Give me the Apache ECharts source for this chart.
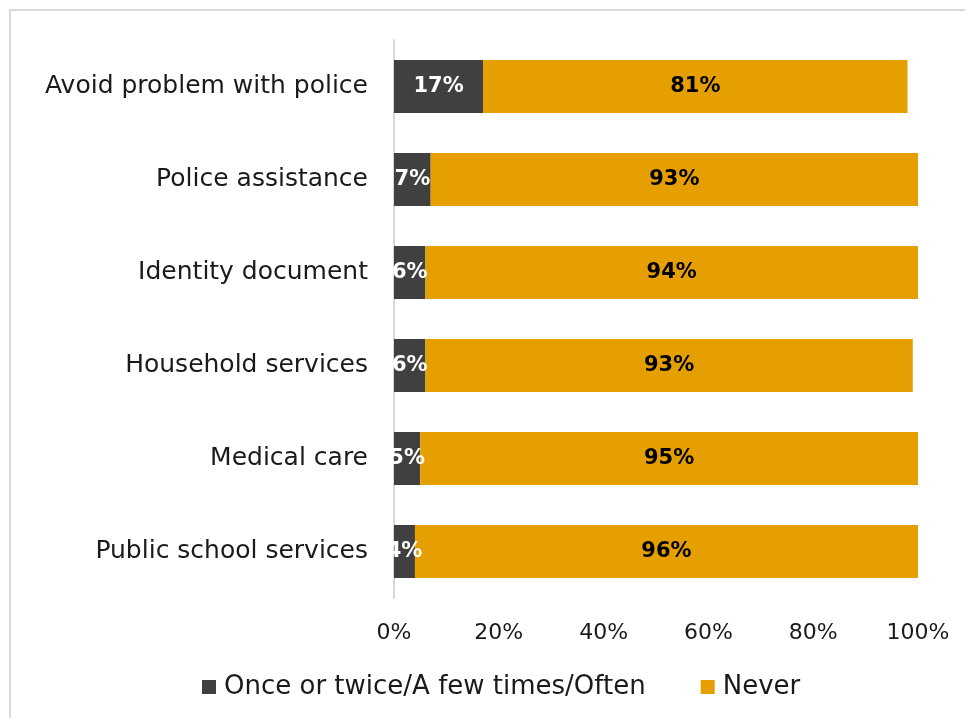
<!DOCTYPE html>
<html>
<head>
<meta charset="utf-8">
<script src="https://cdn.jsdelivr.net/npm/echarts@6/dist/echarts.min.js"></script>
<style>
  html, body { margin: 0; padding: 0; background: #ffffff; }
  #chart { width: 965px; height: 718px; }
</style>
</head>
<body>
<div id="chart"></div>
<script>
// Categories, top to bottom
const categories = [
  'Avoid problem with police',
  'Police assistance',
  'Identity document',
  'Household services',
  'Medical care',
  'Public school services'
];
// Share answering "Once or twice/A few times/Often" (%)
const frequentValues = [17, 7, 6, 6, 5, 4];
// Share answering "Never" (%)
const neverValues = [81, 93, 94, 93, 95, 96];
// Series names shown in the legend
const seriesNames = ['Once or twice/A few times/Often', 'Never'];

const FONT = '"DejaVu Sans", "Liberation Sans", sans-serif';
const DARK = '#404040';
const ORANGE = '#E69F00';

const chart = echarts.init(document.getElementById('chart'), null, { renderer: 'canvas' });

chart.setOption({
  backgroundColor: '#ffffff',
  animation: false,
  textStyle: { fontFamily: FONT },
  graphic: [{
    type: 'rect',
    shape: { x: 10, y: 10, width: 1000, height: 800 },
    style: { fill: 'none', stroke: '#d9d9d9', lineWidth: 2 },
    silent: true,
    z: -1
  }],
  legend: {
    data: seriesNames,
    bottom: 13,
    left: 197,
    icon: 'rect',
    itemWidth: 14,
    itemHeight: 14,
    itemGap: 55,
    textStyle: { fontFamily: FONT, fontSize: 26, color: '#1a1a1a', padding: [0, 0, 0, 3] }
  },
  grid: { left: 394, width: 524, top: 40, height: 558, containLabel: false },
  xAxis: {
    type: 'value',
    min: 0,
    max: 100,
    interval: 20,
    axisLine: { show: false },
    axisTick: { show: false },
    splitLine: { show: false },
    axisLabel: {
      formatter: '{value}%',
      fontFamily: FONT,
      fontSize: 22,
      color: '#1a1a1a',
      margin: 24
    }
  },
  yAxis: {
    type: 'category',
    data: categories,
    inverse: true,
    axisLine: { show: true, lineStyle: { color: '#d9d9d9', width: 2 } },
    axisTick: { show: false },
    axisLabel: {
      fontFamily: FONT,
      fontSize: 25,
      color: '#1a1a1a',
      margin: 26,
      padding: [4, 0, 0, 0]
    }
  },
  series: [
    {
      name: seriesNames[0],
      type: 'bar',
      stack: 'total',
      data: frequentValues,
      barWidth: 53,
      itemStyle: { color: DARK },
      label: {
        show: true,
        position: 'inside',
        formatter: '{c}%',
        color: '#ffffff',
        fontFamily: FONT,
        fontWeight: 'bold',
        fontSize: 21
      }
    },
    {
      name: seriesNames[1],
      type: 'bar',
      stack: 'total',
      data: neverValues,
      barWidth: 53,
      itemStyle: { color: ORANGE },
      label: {
        show: true,
        position: 'inside',
        formatter: '{c}%',
        color: '#000000',
        fontFamily: FONT,
        fontWeight: 'bold',
        fontSize: 21
      }
    }
  ]
});
</script>
</body>
</html>
